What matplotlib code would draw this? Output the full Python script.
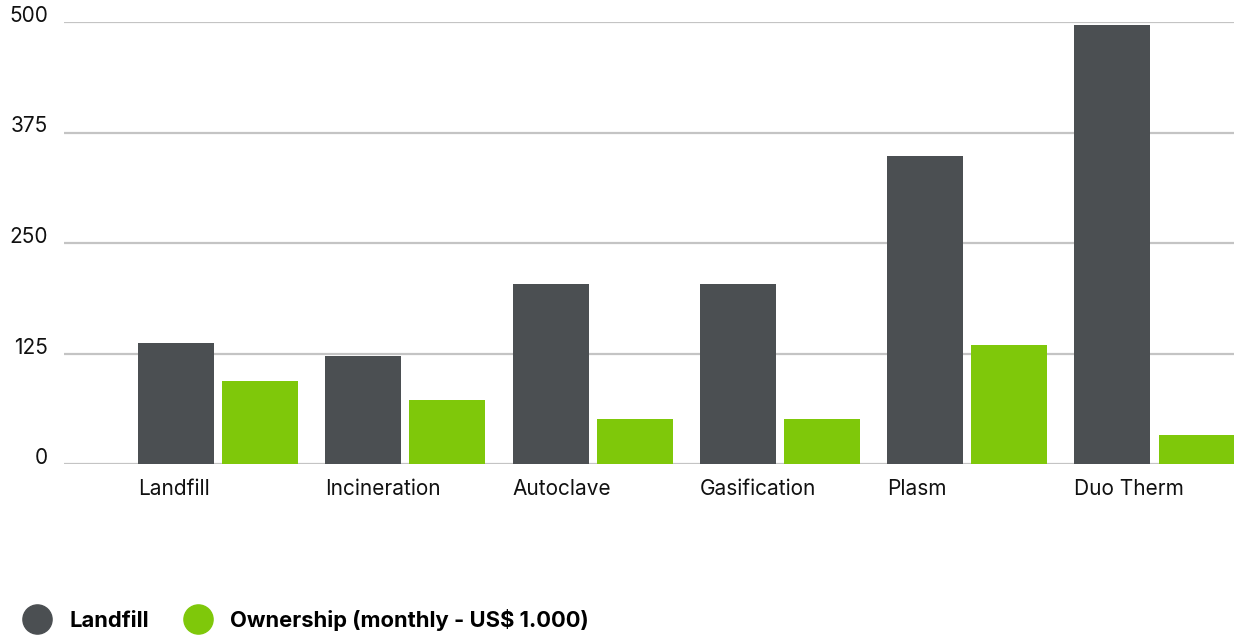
import matplotlib
matplotlib.use("Agg")
import matplotlib.pyplot as plt
from matplotlib.lines import Line2D
import numpy as np

plt.rcParams['font.family'] = ['Inter', 'DejaVu Sans']

categorie = ["Landfill", "Incineration", "Autoclave", "Gasification", "Plasm", "Duo Therm"]
landfill = [137, 122, 204, 204, 348, 497]
ownership = [94, 72, 51, 51, 135, 33]
tick_y = [0, 125, 250, 375, 500]

col_dark = "#4b4f52"
col_green = "#7fc80a"

fig = plt.figure(figsize=(12.34, 6.35), dpi=100)
ax = fig.add_axes([64 / 1234, 1 - 464 / 635, 1170 / 1234, 442 / 635])

x = np.arange(len(categorie))
w = 0.406
gap = 0.043
ax.bar(x, landfill, width=w, align="edge", color=col_dark, zorder=3)
ax.bar(x + w + gap, ownership, width=w, align="edge", color=col_green, zorder=3)

ax.set_xlim(-0.395, 5.852)
ax.set_ylim(0, 500)
ax.set_yticks(tick_y)
ax.set_yticklabels([str(t) for t in tick_y], fontsize=15, color="#111111")
ax.set_xticks(x)
ax.set_xticklabels(categorie, fontsize=15, color="#111111", ha="left")
ax.tick_params(axis="both", length=0)
ax.tick_params(axis="y", pad=11.5)
ax.tick_params(axis="x", pad=11)
for t in ax.get_yticklabels():
    t.set_verticalalignment("baseline")

ax.grid(axis="y", color="#c4c4c4", linewidth=1.6, zorder=0)
for s in ax.spines.values():
    s.set_visible(False)

handles = [
    Line2D([], [], marker="o", linestyle="none", markersize=21, color=col_dark),
    Line2D([], [], marker="o", linestyle="none", markersize=21, color=col_green),
]
fig.legend(handles, ["Landfill", "Ownership (monthly - US$ 1.000)"], ncol=2,
           loc="center left", bbox_to_anchor=(0.0126, 1 - 620 / 635), frameon=False,
           borderpad=0, borderaxespad=0,
           prop={"weight": "bold", "size": 15.8}, handletextpad=0.48, columnspacing=1.19)

fig.savefig("out.png", dpi=100)
